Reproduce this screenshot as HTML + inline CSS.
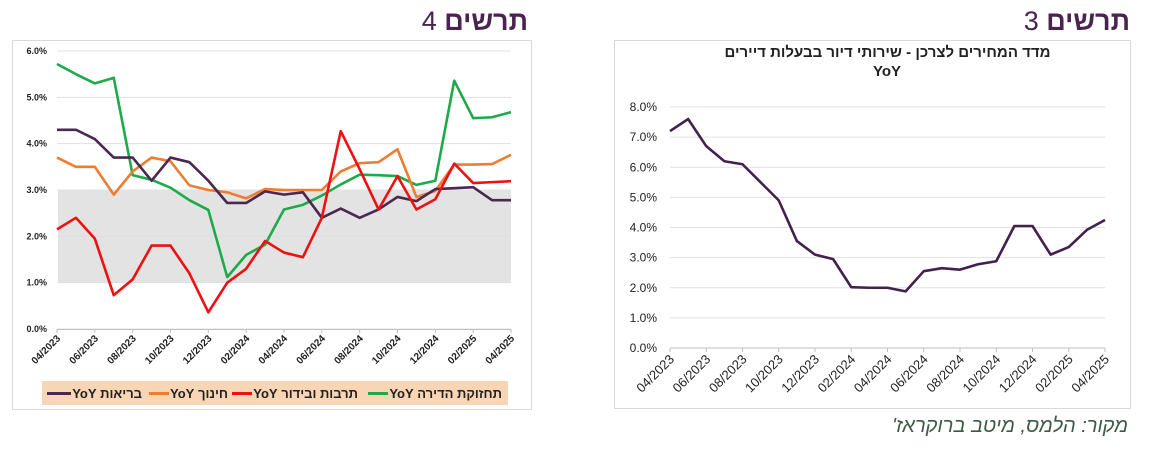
<!DOCTYPE html>
<html><head><meta charset="utf-8">
<style>
html,body{margin:0;padding:0;background:#fff;width:1150px;height:452px;overflow:hidden;position:relative}
body,svg text{font-family:"Liberation Sans","Noto Sans CJK SC",sans-serif}
.h{position:absolute;direction:rtl;white-space:nowrap}
.leg{position:absolute;left:42px;top:381px;width:466px;height:24px;background:#f8d5b5;}
.ent{position:absolute;top:0;height:24px;display:flex;align-items:center;direction:ltr}
.ent i{display:inline-block;width:20px;height:3px;margin-right:1px}
.ent span{direction:rtl;font-size:13px;font-weight:bold;color:#222;white-space:nowrap}
</style></head>
<body>
<svg id="s" width="1150" height="452" xmlns="http://www.w3.org/2000/svg" style="position:absolute;left:0;top:0">
  <rect x="12.5" y="40.5" width="519" height="369" fill="#fff" stroke="#d9d9d9"/>
  <rect x="614.5" y="40.5" width="516" height="368" fill="#fff" stroke="#d9d9d9"/>
  <g id="left"></g>
  <g id="right"></g>
  <text x="887" y="76" text-anchor="middle" font-size="15" font-weight="bold" fill="#222">YoY</text>
</svg>
<div class="h" style="right:622px;top:6px;font-size:27px;color:#4a2350"><b>תרשים</b> 4</div>
<div class="h" style="right:20px;top:6px;font-size:27px;color:#4a2350"><b>תרשים</b> 3</div>
<div class="h" style="left:600px;width:575px;text-align:center;top:44px;font-size:15px;font-weight:bold;color:#222">מדד המחירים לצרכן - שירותי דיור בבעלות דיירים</div>
<div class="h" style="right:22px;top:415px;font-size:20px;font-style:italic;color:#3d5a45">מקור: הלמס, מיטב ברוקראז'</div>
<div class="leg">
  <div class="ent" style="right:6px"><i style="background:#1faa4a"></i><span>תחזוקת הדירה YoY</span></div>
  <div class="ent" style="right:150px"><i style="background:#ee1111"></i><span>תרבות ובידור YoY</span></div>
  <div class="ent" style="right:280px"><i style="background:#ed7d31"></i><span>חינוך YoY</span></div>
  <div class="ent" style="right:366px"><i style="background:#4a2850;width:24px"></i><span>בריאות YoY</span></div>
</div>
<script>
const NS="http://www.w3.org/2000/svg";
const months=["04/2023","05/2023","06/2023","07/2023","08/2023","09/2023","10/2023","11/2023","12/2023","01/2024","02/2024","03/2024","04/2024","05/2024","06/2024","07/2024","08/2024","09/2024","10/2024","11/2024","12/2024","01/2025","02/2025","03/2025","04/2025"];
const leftTicks=[0,1,2,3,4,5,6];
const rightTicks=[0,1,2,3,4,5,6,7,8];
const health=[4.3,4.3,4.1,3.7,3.7,3.2,3.7,3.6,3.2,2.72,2.72,2.97,2.9,2.95,2.4,2.6,2.4,2.58,2.85,2.76,3.02,3.04,3.06,2.78,2.78];
const education=[3.7,3.5,3.5,2.9,3.4,3.7,3.62,3.1,3.0,2.95,2.82,3.02,3.0,3.0,3.0,3.4,3.58,3.6,3.88,2.85,2.98,3.55,3.55,3.56,3.76];
const culture=[2.15,2.4,1.95,0.73,1.07,1.8,1.8,1.2,0.36,1.0,1.3,1.9,1.65,1.55,2.4,4.27,3.45,2.58,3.3,2.58,2.8,3.57,3.15,3.17,3.19];
const maintenance=[5.72,5.5,5.3,5.42,3.32,3.22,3.05,2.78,2.57,1.12,1.6,1.82,2.58,2.68,2.88,3.12,3.33,3.32,3.3,3.11,3.2,5.36,4.55,4.57,4.68];
const housing=[7.2,7.6,6.7,6.2,6.1,5.5,4.9,3.55,3.1,2.95,2.02,2.0,2.0,1.88,2.55,2.65,2.6,2.78,2.88,4.05,4.05,3.1,3.35,3.92,4.25];
const band=[1,3];

function el(tag,attrs,parent,txt){const e=document.createElementNS(NS,tag);for(const k in attrs)e.setAttribute(k,attrs[k]);if(txt!==undefined)e.textContent=txt;parent.appendChild(e);return e;}

const L={x0:57,x1:511,y0:329,y1:51,max:6};
const lx=i=>L.x0+(L.x1-L.x0)*i/(months.length-1);
const ly=v=>L.y0-(L.y0-L.y1)*v/L.max;
const lg=document.getElementById('left');
const bandRect=el('rect',{x:lx(0)+1,y:ly(band[1]),width:lx(months.length-1)-lx(0)-1,height:ly(band[0])-ly(band[1]),fill:'#e3e3e3'},lg);


leftTicks.forEach(t=>{
  const g=el('line',{x1:L.x0,x2:L.x1,y1:ly(t),y2:ly(t),stroke:'#e0e0e0','stroke-width':1},lg);
  
  
  const tx=el('text',{x:47,y:ly(t)+3,'text-anchor':'end','font-size':9,'font-weight':'bold',fill:'#222'},lg,t.toFixed(1)+'%');
  
  
});
el('line',{x1:L.x0,x2:L.x1,y1:L.y0+0.5,y2:L.y0+0.5,stroke:'#bfbfbf'},lg);
months.forEach((m,i)=>{
  if(i%2)return;
  el('line',{x1:lx(i),x2:lx(i),y1:L.y0,y2:L.y0+4,stroke:'#bfbfbf'},lg);
  const t=el('text',{x:lx(i)+4,y:L.y0+10,'text-anchor':'end','font-size':10,'font-weight':'bold',fill:'#222',transform:`rotate(-45 ${lx(i)+4} ${L.y0+10})`},lg,m);
  
  
});
[[maintenance,'#1faa4a','maintenance-line'],[education,'#ed7d31','education-line'],[health,'#4a2850','health-line'],[culture,'#ee1111','culture-line']].forEach(([d,c,n])=>{
  const p=el('polyline',{points:d.map((v,i)=>lx(i)+','+ly(v)).join(' '),fill:'none',stroke:c,'stroke-width':2.6,'stroke-linejoin':'round'},lg);
  
  
});

const R={x0:670,x1:1105,y0:348,y1:107,max:8};
const rx=i=>R.x0+(R.x1-R.x0)*i/(months.length-1);
const ry=v=>R.y0-(R.y0-R.y1)*v/R.max;
const rg=document.getElementById('right');
rightTicks.forEach(t=>{
  const g=el('line',{x1:R.x0,x2:R.x1,y1:ry(t),y2:ry(t),stroke:t===0?'#bfbfbf':'#e0e0e0'},rg);
  
  
  const tx=el('text',{x:657,y:ry(t)+4,'text-anchor':'end','font-size':12,fill:'#222'},rg,t.toFixed(1)+'%');
  
  
});
months.forEach((m,i)=>{
  if(i%2)return;
  el('line',{x1:rx(i),x2:rx(i),y1:R.y0,y2:R.y0+4,stroke:'#bfbfbf'},rg);
  const t=el('text',{x:rx(i)+5,y:R.y0+12,'text-anchor':'end','font-size':13,fill:'#222',transform:`rotate(-45 ${rx(i)+5} ${R.y0+12})`},rg,m);
  
  
});
const hp=el('polyline',{points:housing.map((v,i)=>rx(i)+','+ry(v)).join(' '),fill:'none',stroke:'#43204d','stroke-width':2.6,'stroke-linejoin':'round'},rg);


</script>
</body></html>
